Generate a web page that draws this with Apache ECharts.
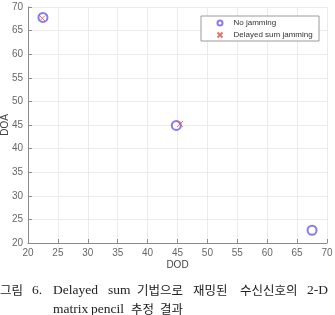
<!DOCTYPE html>
<html>
<head>
<meta charset="utf-8">
<script src="https://cdn.jsdelivr.net/npm/echarts@6/dist/echarts.min.js"></script>
<style>html,body{margin:0;padding:0;background:#fff}#c{width:335px;height:315px}</style>
</head>
<body>
<div id="c"></div>
<script>
const seriesNames = ['No jamming', 'Delayed sum jamming'];
const noJamDOD = [22.5, 44.8, 67.5];
const noJamDOA = [67.8, 44.9, 22.7];
const delayedDOD = [22.4, 45.4];
const delayedDOA = [67.6, 45.2];
const xTicks = [20, 25, 30, 35, 40, 45, 50, 55, 60, 65, 70];
const yTicks = [20, 25, 30, 35, 40, 45, 50, 55, 60, 65, 70];
const captionLine1 = [['그림',0,'k'],['6.',32,'l'],['Delayed',53,'l'],['sum',108,'l'],['기법으로',137,'k'],['재밍된',193,'k'],['수신신호의',240,'k'],['2-D',307,'l']];
const captionLine2 = [['matrix',53,'l'],['pencil',91,'l'],['추정',131,'k'],['결과',160,'k']];

const chart = echarts.init(document.getElementById('c'), null, {renderer:'canvas'});
const pair = (xs, ys) => xs.map((x, i) => [x, ys[i]]);
const latFont = '13.5px "Liberation Serif",serif';
const korFont = '12.5px "Noto Sans CJK KR",sans-serif';
const graphics = [
  {type:'rect', shape:{x:201, y:16, width:118, height:25}, style:{fill:'#fff', stroke:'#9a9a9a', lineWidth:1}, z:50}
];
const addCap = (arr, y) => arr.forEach(([t,x,k]) => graphics.push({type:'text', x:x, y:y, style:{text:t, font:k==='k'?korFont:latFont, fill:'#222', verticalAlign:'middle'}}));
addCap(captionLine1, 290);
addCap(captionLine2, 309);

const axisCommon = {
  type:'value', min:20, max:70, interval:5,
  axisLine:{show:true, lineStyle:{color:'#8a8a8a', width:1}},
  axisTick:{show:true, inside:true, length:4, lineStyle:{color:'#8a8a8a'}},
  axisLabel:{color:'#666', fontSize:10, fontFamily:'"Liberation Sans",sans-serif', margin:5},
  splitLine:{show:true, lineStyle:{color:'#ebebeb', width:1}},
  nameLocation:'middle',
  nameMoveOverlap:false,
  nameTextStyle:{color:'#444', fontSize:10, fontFamily:'"Liberation Sans",sans-serif'}
};

chart.setOption({
  animation:false,
  backgroundColor:'#fff',
  grid:{left:28, right:8, top:7, bottom:72, containLabel:false, outerBoundsMode:'none'},
  xAxis:Object.assign({}, axisCommon, {name:'DOD', nameGap:17}),
  yAxis:Object.assign({}, axisCommon, {name:'DOA', nameGap:18}),
  legend:{
    orient:'vertical', left:215, top:18, padding:0, itemGap:2,
    itemWidth:5, itemHeight:5,
    z:60,
    data:seriesNames,
    textStyle:{fontSize:8, color:'#333', fontFamily:'"Liberation Sans",sans-serif', lineHeight:10, padding:[0,0,0,6]}
  },
  graphic:graphics,
  series:[
    {name:seriesNames[0], type:'scatter', data:pair(noJamDOD, noJamDOA), symbol:'emptyCircle', symbolSize:9,
     itemStyle:{color:'#6a5ae8', borderColor:'#6a5ae8', borderWidth:0.8}},
    {name:seriesNames[1], type:'scatter', data:pair(delayedDOD, delayedDOA), symbol:'path://M0 0L10 10M10 0L0 10', symbolSize:6,
     itemStyle:{color:'none', borderColor:'#e8474a', borderWidth:1}}
  ]
});
</script>
</body>
</html>
